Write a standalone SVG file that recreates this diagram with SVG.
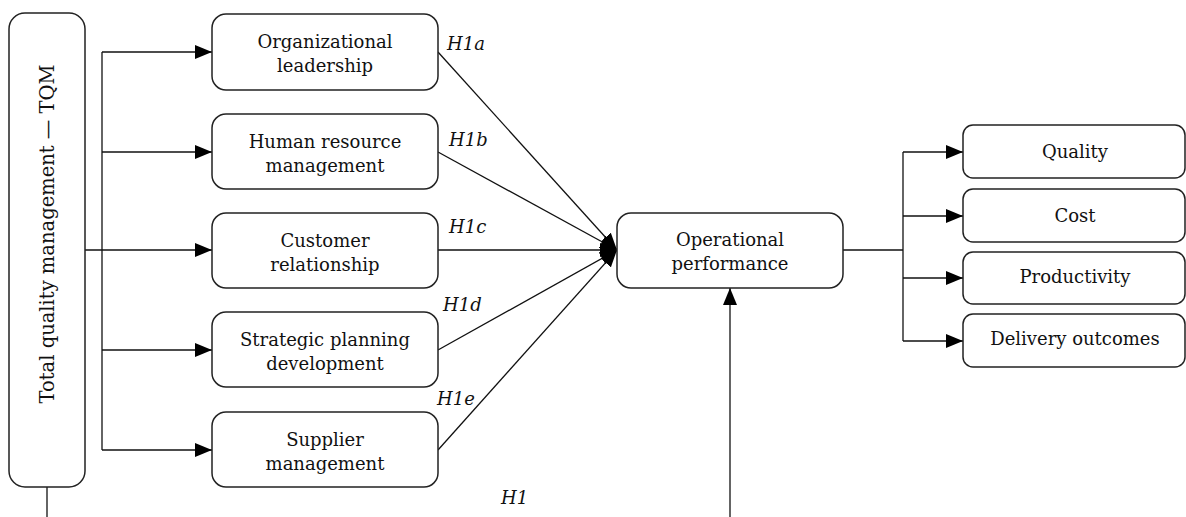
<svg xmlns="http://www.w3.org/2000/svg" width="1186" height="517" viewBox="0 0 1186 517">
<defs>
<marker id="arr" markerWidth="17" markerHeight="14" refX="17" refY="7" orient="auto" markerUnits="userSpaceOnUse"><path d="M0,0 L17,7 L0,14 z" fill="#000"/></marker>
<style>
.box{fill:#fff;stroke:#222;stroke-width:1.5}
.t{font-family:"DejaVu Serif",serif;font-size:18px;fill:#111;text-anchor:middle}
.h{font-family:"DejaVu Serif",serif;font-size:18px;font-style:italic;fill:#111}
.c{fill:none;stroke:#111;stroke-width:1.3}
.ca{fill:none;stroke:#111;stroke-width:1.3;marker-end:url(#arr)}
</style>
</defs>
<rect width="1186" height="517" fill="#fff"/>
<g id="connectors">
<line class="c" x1="102" y1="52" x2="102" y2="450"/>
<line class="ca" x1="102" y1="52" x2="212" y2="52"/>
<line class="ca" x1="102" y1="152" x2="212" y2="152"/>
<line class="ca" x1="85" y1="250" x2="212" y2="250"/>
<line class="ca" x1="102" y1="350" x2="212" y2="350"/>
<line class="ca" x1="102" y1="450" x2="212" y2="450"/>
<line class="ca" x1="438" y1="52" x2="617" y2="250"/>
<line class="ca" x1="438" y1="152" x2="617" y2="250"/>
<line class="ca" x1="438" y1="250" x2="617" y2="250"/>
<line class="ca" x1="438" y1="350" x2="617" y2="250"/>
<line class="ca" x1="438" y1="450" x2="617" y2="250"/>
<line class="c" x1="47" y1="487" x2="47" y2="517"/>
<line class="ca" x1="730" y1="517" x2="730" y2="288"/>
<line class="c" x1="843" y1="250" x2="903" y2="250"/>
<line class="c" x1="903" y1="152" x2="903" y2="341"/>
<line class="ca" x1="903" y1="152" x2="963" y2="152"/>
<line class="ca" x1="903" y1="216" x2="963" y2="216"/>
<line class="ca" x1="903" y1="278" x2="963" y2="278"/>
<line class="ca" x1="903" y1="341" x2="963" y2="341"/>
</g>
<g id="labels">
<text class="h" x="447" y="50">H1a</text>
<text class="h" x="449" y="146">H1b</text>
<text class="h" x="449" y="233">H1c</text>
<text class="h" x="443" y="311">H1d</text>
<text class="h" x="437" y="405">H1e</text>
<text class="h" x="501" y="504">H1</text>
</g>
<g id="tqm">
<rect class="box" x="9" y="13" width="76" height="474" rx="16"/>
<text class="t" style="font-size:19.5px" transform="translate(54,234) rotate(-90)">Total quality management — TQM</text>
</g>
<g id="org-leadership">
<rect class="box" x="212" y="14" width="226" height="76" rx="14"/>
<text class="t" x="325" y="48">Organizational</text>
<text class="t" x="325" y="72">leadership</text>
</g>
<g id="hrm">
<rect class="box" x="212" y="114" width="226" height="75" rx="14"/>
<text class="t" x="325" y="148">Human resource</text>
<text class="t" x="325" y="172">management</text>
</g>
<g id="customer">
<rect class="box" x="212" y="213" width="226" height="75" rx="14"/>
<text class="t" x="325" y="247">Customer</text>
<text class="t" x="325" y="271">relationship</text>
</g>
<g id="strategic">
<rect class="box" x="212" y="312" width="226" height="75" rx="14"/>
<text class="t" x="325" y="346">Strategic planning</text>
<text class="t" x="325" y="370">development</text>
</g>
<g id="supplier">
<rect class="box" x="212" y="412" width="226" height="75" rx="14"/>
<text class="t" x="325" y="446">Supplier</text>
<text class="t" x="325" y="470">management</text>
</g>
<g id="operational">
<rect class="box" x="617" y="213" width="226" height="75" rx="14"/>
<text class="t" x="730" y="246">Operational</text>
<text class="t" x="730" y="270">performance</text>
</g>
<g id="quality">
<rect class="box" x="963" y="125" width="222" height="53" rx="10"/>
<text class="t" x="1075" y="158">Quality</text>
</g>
<g id="cost">
<rect class="box" x="963" y="189" width="222" height="53" rx="10"/>
<text class="t" x="1075" y="222">Cost</text>
</g>
<g id="productivity">
<rect class="box" x="963" y="252" width="222" height="52" rx="10"/>
<text class="t" x="1075" y="283">Productivity</text>
</g>
<g id="delivery">
<rect class="box" x="963" y="314" width="222" height="53" rx="10"/>
<text class="t" x="1075" y="345">Delivery outcomes</text>
</g>
</svg>
